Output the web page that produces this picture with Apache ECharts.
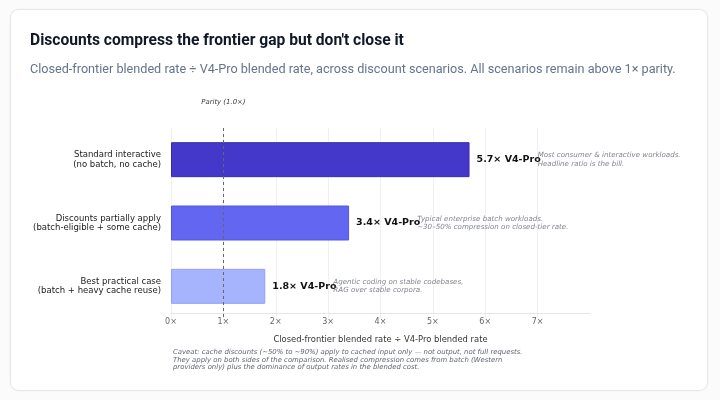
<!DOCTYPE html>
<html>
<head>
<meta charset="utf-8">
<script src="https://cdn.jsdelivr.net/npm/echarts@6/dist/echarts.min.js"></script>
<style>
  html, body { margin: 0; padding: 0; background: #fbfbfb; }
  #chart { width: 720px; height: 400px; }
</style>
</head>
<body>
<div id="chart"></div>
<script>
// ---- data ----
const categories = [
  'Standard interactive\n(no batch, no cache)',
  'Discounts partially apply\n(batch-eligible + some cache)',
  'Best practical case\n(batch + heavy cache reuse)'
];
const ratios = [5.7, 3.4, 1.8];
const notes = [
  'Most consumer & interactive workloads.\nHeadline ratio is the bill.',
  'Typical enterprise batch workloads.\n~30–50% compression on closed-tier rate.',
  'Agentic coding on stable codebases,\nRAG over stable corpora.'
];
const barColors = ['#4338ca', '#6366f1', '#a5b4fc'];
const barBorders = ['#3730a3', '#5457e6', '#93a2f8'];
const parityValue = 1.0;
const parityLabel = 'Parity (1.0×)';
const xMin = 0, xMax = 8, xStep = 1;
const noteGap = 1.3;
const titleText = "Discounts compress the frontier gap but don't close it";
const subtitleText = 'Closed-frontier blended rate ÷ V4-Pro blended rate, across discount scenarios. All scenarios remain above 1× parity.';
const xAxisTitle = 'Closed-frontier blended rate ÷ V4-Pro blended rate';
const caveat = 'Caveat: cache discounts (~50% to ~90%) apply to cached input only — not output, not full requests.\nThey apply on both sides of the comparison. Realised compression comes from batch (Western\nproviders only) plus the dominance of output rates in the blended cost.';

const F = 'DejaVu Sans, sans-serif';
const chart = echarts.init(document.getElementById('chart'));

const option = {
  animation: false,
  backgroundColor: 'transparent',
  graphic: [
    { type: 'rect', z: -10, shape: { x: 10.5, y: 9.5, width: 697, height: 381, r: 8 },
      style: { fill: '#ffffff', stroke: '#e8e8ec', lineWidth: 1, shadowBlur: 3, shadowColor: 'rgba(0,0,0,0.05)' } },
    { type: 'text', left: 173, top: 349,
      style: { text: caveat, font: 'italic 6.9px ' + F, fill: '#5f6472', lineHeight: 7.4 } }
  ],
  title: [
    { text: titleText, left: 25, top: 28,
      textStyle: { fontFamily: 'Roboto', fontWeight: 'bold', fontSize: 15.6, color: '#111827' } },
    { text: subtitleText, left: 25, top: 58,
      textStyle: { fontFamily: 'Roboto', fontWeight: 'normal', fontSize: 12.65, color: '#64748b' } }
  ],
  grid: { left: 171, right: 130, top: 128, height: 190, containLabel: false },
  xAxis: {
    type: 'value', min: xMin, max: xMax, interval: xStep, offset: -5,
    name: xAxisTitle, nameLocation: 'middle', nameGap: 23,
    nameTextStyle: { fontFamily: F, fontSize: 8.4, color: '#333' },
    axisLine: { show: true, lineStyle: { color: '#e6e6e6', width: 1 } },
    axisTick: { show: false },
    axisLabel: { showMaxLabel: false, margin: 5, fontFamily: F, fontSize: 8, color: '#666',
      formatter: v => v + '×' },
    splitLine: { show: true, showMaxLine: false, lineStyle: { color: '#f0f0f2', width: 1 } }
  },
  yAxis: {
    type: 'category', data: categories, inverse: true,
    axisLine: { show: false }, axisTick: { show: false },
    axisLabel: { margin: 10, fontFamily: F, fontSize: 8.5, lineHeight: 9.4, color: '#1a1a1a', align: 'right' }
  },
  series: [
    {
      type: 'bar', barWidth: 35, z: 3,
      data: ratios.map((v, i) => ({ value: v,
        itemStyle: { color: barColors[i], borderColor: barBorders[i], borderWidth: 1 } })),
      label: { show: true, position: 'right', distance: 7, fontFamily: F, fontWeight: 'bold',
        fontSize: 9.5, color: '#111', formatter: p => p.value + '× V4-Pro' },
      markLine: {
        silent: true, symbol: 'none', z: 4,
        lineStyle: { color: '#666', type: [3, 3], width: 1 },
        label: { show: true, position: 'start', distance: 22, formatter: parityLabel,
          fontFamily: F, fontStyle: 'italic', fontSize: 6.9, color: '#333' },
        data: [{ xAxis: parityValue }]
      }
    },
    {
      type: 'scatter', symbolSize: 0, z: 5, silent: true,
      data: ratios.map((v, i) => ({ value: [v + noteGap, i], note: notes[i] })),
      label: { show: true, position: 'right', distance: 0, fontFamily: F, fontStyle: 'italic',
        fontSize: 7.1, lineHeight: 8.3, color: '#5f6472', align: 'left',
        formatter: p => p.data.note }
    }
  ]
};
chart.setOption(option);
</script>
</body>
</html>
